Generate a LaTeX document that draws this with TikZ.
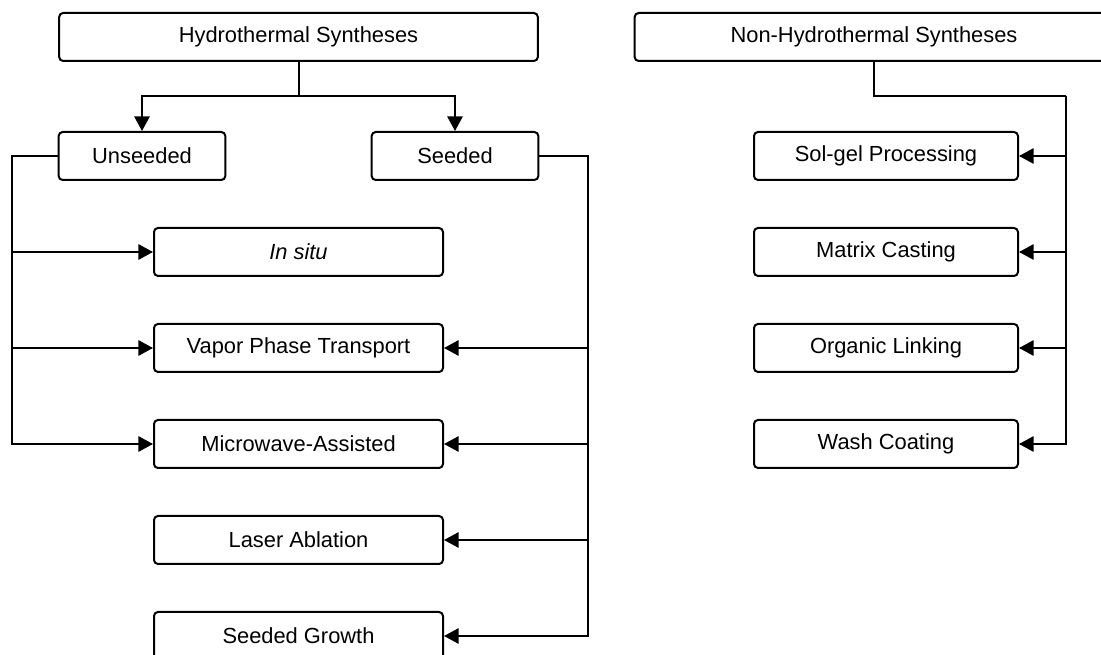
\documentclass[tikz,border=0pt]{standalone}
\usepackage{fontspec}
\setmainfont{Liberation Sans}
\usetikzlibrary{arrows.meta}

\begin{document}
\begin{tikzpicture}[x=0.75pt,y=-0.75pt,
  line width=1.5pt,
  box/.style={draw,rounded corners=3pt,minimum height=36pt,inner sep=0pt,
    font=\fontsize{16.4}{19}\selectfont},
  headbox/.style={box,minimum width=359pt},
  subbox/.style={box,minimum width=125pt},
  leftbox/.style={box,minimum width=216.75pt},
  rightbox/.style={box,minimum width=198pt},
  arr/.style={-{Triangle[length=11pt,width=11.5pt]}}]
\useasboundingbox (0,0) rectangle (1101,655);
\node[headbox] (hydro) at (298.5,37) {Hydrothermal Syntheses};
\node[headbox] (nonhydro) at (874,37) {Non-Hydrothermal Syntheses};
\node[subbox] (unseed) at (142,156) {Unseeded};
\node[subbox] (seed) at (455,156) {Seeded};
\node[leftbox] (insitu) at (298.5,252) {\itshape In situ};
\node[leftbox] (vapor) at (298.5,348) {Vapor Phase Transport};
\node[leftbox] (micro) at (298.5,444) {Microwave-Assisted};
\node[leftbox] (laser) at (298.5,540) {Laser Ablation};
\node[leftbox] (sgrowth) at (298.5,636) {Seeded Growth};
\node[rightbox] (solgel) at (886,156) {Sol-gel Processing};
\node[rightbox] (matrix) at (886,252) {Matrix Casting};
\node[rightbox] (organic) at (886,348) {Organic Linking};
\node[rightbox] (wash) at (886,444) {Wash Coating};
\coordinate (hsplit) at (298.5,96);
\coordinate (ubus) at (12,156);
\coordinate (sbus) at (588,156);
\coordinate (nsplit) at (874,96);
\coordinate (nbus) at (1066,96);
\draw (hydro.south) -- (hsplit);
\draw[arr] (hsplit) -| (unseed.north);
\draw[arr] (hsplit) -| (seed.north);
\foreach \t in {insitu,vapor,micro}
  \draw[arr] (unseed.west) -- (ubus) |- (\t.west);
\foreach \t in {vapor,micro,laser,sgrowth}
  \draw[arr] (seed.east) -- (sbus) |- (\t.east);
\draw (nonhydro.south) -- (nsplit) -- (nbus);
\foreach \t in {solgel,matrix,organic,wash}
  \draw[arr] (nbus) |- (\t.east);
\end{tikzpicture}
\end{document}
